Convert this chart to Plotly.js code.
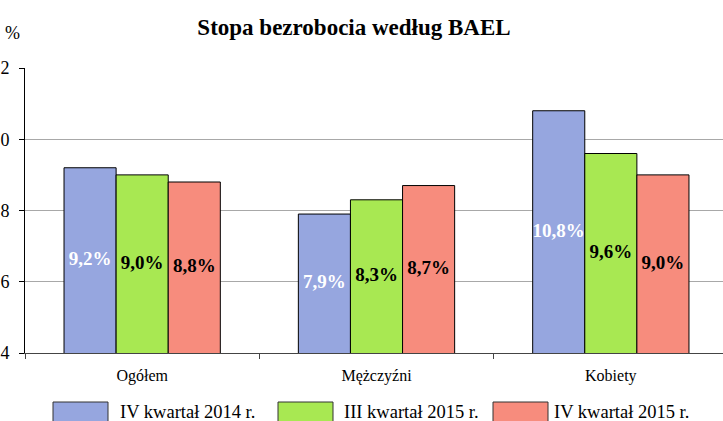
<!DOCTYPE html>
<html>
<head>
<meta charset="utf-8">
<script src="https://cdn.plot.ly/plotly-3.0.1.min.js"></script>
<style>
html,body{margin:0;padding:0;overflow:hidden;background:#fff;width:723px;height:421px;}
#chart{position:absolute;left:0;top:0;width:728px;height:421px;}
</style>
</head>
<body>
<div id="chart"></div>
<script>
const categories = ['Ogółem', 'Mężczyźni', 'Kobiety'];
const seriesNames = ['IV kwartał 2014 r.', 'III kwartał 2015 r.', 'IV kwartał 2015 r.'];
const q4_2014 = [9.2, 7.9, 10.8];
const q3_2015 = [9.0, 8.3, 9.6];
const q4_2015 = [8.8, 8.7, 9.0];
const yTicks = [4, 6, 8, 10, 12];
const yTickLabels = ['4', '6', '8', '10', '12'];

const colors = ['#96A6DF', '#A8E852', '#F78C7D'];
const labelColors = ['#ffffff', '#000000', '#000000'];
const seriesValues = [q4_2014, q3_2015, q4_2015];
const yMin = yTicks[0], yMax = yTicks[yTicks.length - 1];

const FONT = '"Liberation Serif", "Times New Roman", serif';
const W = 728, H = 421, L = 25, R = 0, T = 68, B = 68;
const PW = W - L - R, PH = H - T - B;
const px2x = p => (p - L) / PW;
const py2y = p => (H - B - p) / PH;

const fmt = v => v.toFixed(1).replace('.', ',') + '%';

const bars = seriesValues.map((vals, i) => ({
  type: 'bar',
  name: seriesNames[i],
  x: categories,
  y: vals,
  offsetgroup: 'g' + i,
  marker: {color: colors[i], line: {color: '#000000', width: 1}},
  hoverinfo: 'none'
}));

const labels = seriesValues.map((vals, i) => ({
  type: 'scatter',
  mode: 'text',
  x: categories,
  y: vals.map(v => (yMin + v) / 2),
  offsetgroup: 'g' + i,
  text: vals.map(fmt),
  textposition: 'middle center',
  textfont: {family: FONT, size: 19, color: labelColors[i], weight: 'bold'},
  cliponaxis: false,
  hoverinfo: 'none',
  showlegend: false
}));

const shapes = [];
const annotations = [];
const legBoxX = [53, 278, 493];
const legTextX = [118, 342, 552];
seriesNames.forEach((n, i) => {
  shapes.push({type: 'rect', xref: 'paper', yref: 'paper',
    x0: px2x(legBoxX[i]), x1: px2x(legBoxX[i] + 55),
    y0: py2y(402), y1: py2y(426),
    fillcolor: colors[i], line: {color: '#333333', width: 1}});
  annotations.push({xref: 'paper', yref: 'paper', x: px2x(legTextX[i]), y: py2y(412),
    xanchor: 'left', yanchor: 'middle', showarrow: false, text: n,
    font: {family: FONT, size: 18.5, color: '#000'}});
});
annotations.push({xref: 'paper', yref: 'paper', x: px2x(13), y: py2y(33),
  xanchor: 'center', yanchor: 'middle', showarrow: false, text: '%',
  font: {family: FONT, size: 18, color: '#000'}});

const layout = {
  width: W, height: H,
  margin: {l: L, r: R, t: T, b: B, pad: 0},
  paper_bgcolor: '#ffffff', plot_bgcolor: '#ffffff',
  showlegend: false,
  font: {family: FONT},
  barmode: 'group', bargap: 0.333, bargroupgap: 0,
  scattermode: 'group', scattergap: 0.333,
  title: {text: '<b>Stopa bezrobocia według BAEL</b>', xref: 'paper', x: px2x(354), xanchor: 'center',
    yref: 'container', y: 1 - 27 / H, yanchor: 'middle',
    font: {family: FONT, size: 23, color: '#000'}},
  xaxis: {type: 'category', range: [-0.5, 2.5], showline: true, linecolor: '#444', linewidth: 1,
    ticks: 'outside', tickson: 'boundaries', ticklen: 5, tickcolor: '#444', ticklabelstandoff: 8,
    showgrid: false, tickfont: {family: FONT, size: 16, color: '#000'}, fixedrange: true},
  yaxis: {range: [yMin, yMax], tickvals: yTicks, ticktext: yTickLabels, showline: true, linecolor: '#000', linewidth: 1,
    ticks: 'outside', ticklen: 5, tickcolor: '#000', ticklabelstandoff: 6,
    showgrid: true, gridcolor: '#A8A8A8', gridwidth: 1, zeroline: false,
    tickfont: {family: FONT, size: 18, color: '#000'}, fixedrange: true},
  shapes: shapes,
  annotations: annotations
};

Plotly.newPlot('chart', bars.concat(labels), layout, {displayModeBar: false, staticPlot: true});
</script>
</body>
</html>
